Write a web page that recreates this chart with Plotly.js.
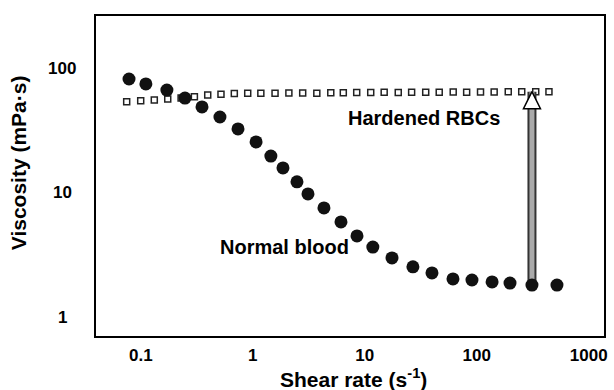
<!DOCTYPE html>
<html>
<head>
<meta charset="utf-8">
<script src="https://cdn.plot.ly/plotly-3.0.1.min.js"></script>
<style>html,body{margin:0;padding:0;background:#fff;}#chart{width:614px;height:390px;}</style>
</head>
<body>
<div id="chart"></div>
<script>
// Normal blood (filled circles)
const normShear = [0.0785,0.111,0.171,0.248,0.352,0.509,0.738,1.07,1.45,1.86,2.48,3.11,4.32,6.13,8.52,11.8,17.5,26.9,39.8,61.3,90.6,137,198,311,520];
const normVisc  = [82.4,75.2,67.1,57.9,49.1,40.8,32.7,25.7,19.8,15.9,12.3,9.82,7.58,5.85,4.52,3.68,3.01,2.55,2.28,2.04,2.00,1.93,1.89,1.82,1.82];
// Hardened RBCs (open squares)
const hardShear = [0.0748,0.0998,0.132,0.174,0.229,0.301,0.396,0.520,0.684,0.901,1.18,1.58,2.10,2.79,3.73,4.97,6.43,8.47,11.3,14.9,19.9,26.2,35.0,46.2,61.6,81.2,108,143,191,252,336,441];
const hardVisc  = [54.1,55.1,55.8,56.9,58.0,59.4,61.2,62.1,63.0,63.2,63.4,63.2,63.5,63.6,63.4,63.8,64.0,64.2,64.1,64.4,64.3,64.6,64.4,64.5,64.7,64.6,64.8,64.9,65.0,65.1,65.2,65.2];
// Ticks
const xTickVals = [0.1,1,10,100,1000];
const xTickText = ["0.1","1","10","100","1000"];
const yTickVals = [1,10,100];
const yTickText = ["1","10","100"];
// Labels
const seriesLabels = ["Normal blood","Hardened RBCs"];
const xTitle = "Shear rate (s<sup>-1</sup>)";
const yTitle = "Viscosity (mPa·s)";
const arrowIndex = 23; // arrow drawn at this normal-blood point

const arrowX = normShear[arrowIndex];
let nearest = 0;
hardShear.forEach((s,i)=>{ if (Math.abs(Math.log10(s)-Math.log10(arrowX)) < Math.abs(Math.log10(hardShear[nearest])-Math.log10(arrowX))) nearest = i; });
const arrowTop = hardVisc[nearest];
const arrowBottom = normVisc[arrowIndex];

const fam = "Liberation Sans, Arial, sans-serif";
const txtFont = {family: fam, size: 20, color: "#000", weight: "bold"};
const titleFont = {family: fam, size: 21, color: "#000", weight: "bold"};
const tickFont = {family: fam, size: 17, color: "#000", weight: "bold"};

const traces = [
  {x: hardShear, y: hardVisc, type: "scatter", mode: "markers",
   marker: {symbol: "square", size: 6, color: "#fff", line: {color: "#222", width: 1.5}}},
  {x: [arrowX, arrowX], y: [arrowBottom, arrowTop], type: "scatter", mode: "lines",
   line: {color: "#333", width: 9}},
  {x: [arrowX, arrowX], y: [arrowBottom, arrowTop], type: "scatter", mode: "lines",
   line: {color: "#aaa", width: 5}},
  {x: [arrowX], y: [arrowTop], type: "scatter", mode: "markers",
   marker: {symbol: "arrow-up", size: 17, color: "#fff", line: {color: "#000", width: 1.5}}},
  {x: normShear, y: normVisc, type: "scatter", mode: "markers",
   marker: {symbol: "circle", size: 13, color: "#111", line: {width: 0}}}
];

const annotations = [
  {text: seriesLabels[1], xref: "paper", yref: "paper", x: 0.6457, y: 0.680, showarrow: false, font: txtFont, xanchor: "center", yanchor: "middle"},
  {text: seriesLabels[0], xref: "paper", yref: "paper", x: 0.371, y: 0.277, showarrow: false, font: txtFont, xanchor: "center", yanchor: "middle"},
  {text: yTitle, xref: "paper", yref: "paper", x: -0.1535, y: 0.54, textangle: -90, showarrow: false, font: titleFont, xanchor: "center", yanchor: "middle"},
  {text: xTitle, xref: "paper", yref: "paper", x: 0.506, y: -0.131, showarrow: false, font: titleFont, xanchor: "center", yanchor: "middle"}
];
yTickVals.forEach((v,i)=>{
  annotations.push({text: yTickText[i], xref: "paper", yref: "y", x: -0.0669, y: Math.log10(v), showarrow: false, font: tickFont, xanchor: "center", yanchor: "middle"});
});

const layout = {
  width: 614, height: 390,
  margin: {l: 96, r: 10, t: 16, b: 54},
  paper_bgcolor: "#fff", plot_bgcolor: "#fff",
  showlegend: false,
  xaxis: {type: "log", range: [-1.4, 3.136], tickvals: xTickVals, ticktext: xTickText,
          showgrid: false, zeroline: false, showline: true, mirror: true, linecolor: "#000", linewidth: 2,
          ticks: "", ticklabelstandoff: 3, tickfont: tickFont, automargin: false},
  yaxis: {type: "log", range: [-0.149, 2.422], tickvals: yTickVals, showticklabels: false,
          showgrid: false, zeroline: false, showline: true, mirror: true, linecolor: "#000", linewidth: 2,
          ticks: "", automargin: false},
  annotations: annotations
};

Plotly.newPlot("chart", traces, layout, {staticPlot: true, displayModeBar: false});
</script>
</body>
</html>
